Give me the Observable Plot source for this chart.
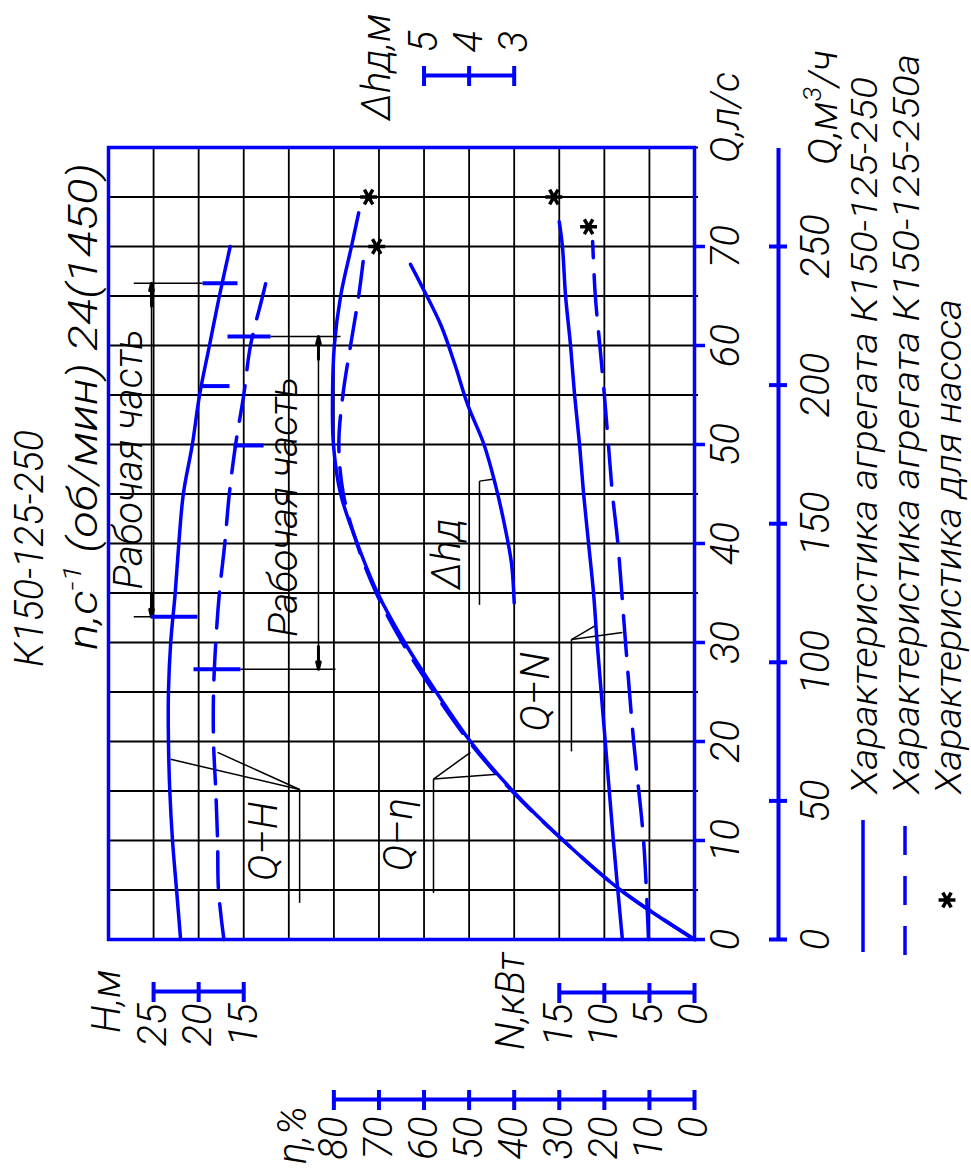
<!DOCTYPE html>
<html>
<head>
<meta charset="utf-8">
<script src="https://cdn.jsdelivr.net/npm/d3@7"></script>
<script src="https://cdn.jsdelivr.net/npm/@observablehq/plot@0.6"></script>
<style>
  html, body { margin: 0; padding: 0; background: #fff; overflow: hidden; }
  /* the sheet is laid out in landscape and turned a quarter turn counter-clockwise */
  #sheet { position: absolute; left: 0; top: 0; width: 1172px; height: 971px;
           transform-origin: 0 0; transform: translate(0px, 1172px) rotate(-90deg); }
  #sheet svg { position: absolute; left: 0; top: 0; overflow: visible; }
</style>
</head>
<body>
<div id="sheet"></div>
<script>
// ---------------- data ----------------
// flow, l/s
const qGrid = [0,5,10,15,20,25,30,35,40,45,50,55,60,65,70,75,80];
const qTicksLs = [0,10,20,30,40,50,60,70];
// flow, m³/h (second scale)
const qTicksM3 = [0,50,100,150,200,250];
// efficiency grid / ticks, %
const etaGrid = [0,10,20,30,40,50,60,70,80,90,100,110,120,130];
const etaTicks = [0,10,20,30,40,50,60,70,80];
const headTicks = [15,20,25];
const powTicks = [0,5,10,15];
const npshTicks = [3,4,5];

// Q-H, unit K150-125-250 (solid)
const qHead = [0,5,10,15,20,25,30,35,40,45,50,55,60,65,70];
const headAgg = [22.0,22.45,22.9,23.2,23.35,23.35,23.1,22.6,22.2,21.7,20.7,19.9,18.8,17.7,16.5];
// Q-H, unit K150-125-250a (dashed)
const qHeadA = [0,5,10,15,20,25,30,35,40,45,50,55,60,65,67.5];
const headAggA = [17.2,17.8,17.9,18.1,18.35,18.35,18.1,17.7,17.1,16.6,15.9,15.0,14.25,12.9,12.25];

// Q-η
const qEff = [0,5,10,15,20,25,30,35,40,45,50,55,60,65,70,73.4];
const effAgg = [0,16.4,29.1,40.3,49.7,57.3,64.3,70.3,74.8,78.5,80.1,80.3,79.9,78.5,76.1,74.5];
const qEffA = [0,5,10,15,20,25,30,35,40,45,50,55,60,65,68.9];
const effAggA = [0,16.4,29.1,40.5,50.0,57.8,64.8,70.6,74.9,77.9,78.9,78.0,76.3,74.5,73.4];

// Q-N, kW
const qPow = [0,10,20,30,35,40,45,50,55,60,65,70,72.5];
const powAgg = [8.0,9.0,9.9,10.8,11.2,11.75,12.3,12.75,13.3,13.75,14.3,14.65,15.0];
const qPowA = [0,10,20,30,40,45,50,55,60,65,70.5];
const powAggA = [5.1,5.65,6.75,7.65,8.5,9.1,9.55,10.0,10.5,11.0,11.3];

// Δh (NPSH), m
const qNpsh = [34,38,42,46,50,54,58,62,66,68.2];
const npsh = [3.0,3.06,3.22,3.42,3.67,4.03,4.31,4.62,5.05,5.3];

// pump-only points (asterisks)
const starEffQ = [75, 70];
const starEff = [72.3, 70.5];
const starPowQ = [75, 72];
const starPow = [15.6, 11.75];

// working ranges, l/s
const workAgg = [32.6, 66.3];
const workAggA = [27.3, 60.9];
// best-efficiency marks on the Q-H curves, l/s
const bestAgg = 55.9;
const bestAggA = 49.9;

// curve captions
const curveLabels = ["Q–H", "Q–η", "Q–N", "Δhд"];
const workLabel = "Рабочая часть";

// ---------------- layout ----------------
const W = 1172, HGT = 971;
const FRAME = {left: 232, right: 1024, top: 108, bottom: 694};
const BLUE = "#0000ff";
const FONT = "Roboto, 'Liberation Sans', Arial, sans-serif";
const FONT_SIZE = 40;
const textStyle = {fontFamily: FONT, fontStyle: "italic", fontWeight: 300, fontSize: FONT_SIZE, fill: "black"};
const sheet = document.getElementById("sheet");
const rows = (xs, ys) => xs.map((x, i) => ({x, y: ys[i]}));

function layer(opts, margins = {}) {
  const svg = Plot.plot({
    width: W, height: HGT,
    marginLeft: FRAME.left, marginRight: W - FRAME.right,
    marginTop: FRAME.top, marginBottom: HGT - FRAME.bottom,
    ...margins, ...opts
  });
  sheet.appendChild(svg);
  return svg;
}

// base: grid, frame, Q axis (l/s), efficiency curves and captions
const capQ = [5.9, 6.9, 21.0, 35.4];
const capEta = [95.5, 65.5, 35.2, 54.9];
const leaders = [
  // Q-H
  {x1: 3.7, y1: 87.6, x2: 15.15, y2: 87.6}, {x1: 15.15, y1: 87.6, x2: 18.2, y2: 116.2}, {x1: 15.15, y1: 87.6, x2: 18.9, y2: 105.8},
  // Q-η
  {x1: 4.7, y1: 57.9, x2: 16.2, y2: 57.9}, {x1: 16.2, y1: 57.9, x2: 18.9, y2: 49.7}, {x1: 16.2, y1: 57.9, x2: 16.7, y2: 43.7},
  // Q-N
  {x1: 19.0, y1: 27.3, x2: 30.3, y2: 27.3}, {x1: 30.3, y1: 27.3, x2: 31.7, y2: 22.0}, {x1: 30.3, y1: 27.3, x2: 31.0, y2: 16.0},
  // Δh
  {x1: 33.8, y1: 47.7, x2: 46.3, y2: 47.7}, {x1: 46.3, y1: 47.7, x2: 46.5, y2: 44.8}
];
layer({
  x: {domain: [0, 80], axis: null},
  y: {domain: [0, 130], axis: null},
  marks: [
    Plot.ruleX(qGrid, {y1: -0.9, y2: 130, stroke: "black", strokeWidth: 1.8}),
    Plot.ruleY(etaGrid, {stroke: "black", strokeWidth: 1.8}),
    Plot.frame({stroke: BLUE, strokeWidth: 3.5}),
    Plot.axisX(qTicksLs, {anchor: "bottom", tickSize: 11, tickPadding: 5, stroke: BLUE, strokeWidth: 3.5, ...textStyle, label: null}),
    Plot.link(leaders, {x1: "x1", y1: "y1", x2: "x2", y2: "y2", stroke: "black", strokeWidth: 1.5}),
    Plot.text(curveLabels, {x: capQ, y: capEta, text: d => d, textAnchor: "start", lineAnchor: "middle", ...textStyle}),
    Plot.text([workLabel, workLabel], {x: [48.5, 43.7], y: [125.3, 91.0], text: d => d, textAnchor: "middle", lineAnchor: "middle", ...textStyle}),
    Plot.line(rows(qEff, effAgg), {x: "x", y: "y", stroke: BLUE, strokeWidth: 3.5, curve: "catmull-rom"}),
    Plot.line(rows(qEffA, effAggA), {x: "x", y: "y", stroke: BLUE, strokeWidth: 3.5, strokeDasharray: "36,16", curve: "catmull-rom"}),
    Plot.dot(rows(starEffQ, starEff), {x: "x", y: "y", symbol: "asterisk", r: 8, stroke: "black", strokeWidth: 3.5})
  ]
});

// head layer: Q-H curves and the working-range dimensions
const dimAgg = {h: 25.23, ext: [[27.2, 19.57, 15.69], [27.2, 25.3, 20.13]]};
const dimAggA = {h: 6.71, ext: [[4.26, 12.03, 16.8], [4.82, 15.36, 20.57]]};
function dimMarks(range, dim) {
  const [q1, q2] = range;
  const [up, lo] = dim.ext;
  return [
    Plot.link([0], {x1: q1, x2: q2, y1: dim.h, y2: dim.h, stroke: "black", strokeWidth: 1.5}),
    Plot.arrow([0, 1], {x1: [q1 + 2.3, q2 - 2.3], x2: [q1, q2], y1: dim.h, y2: dim.h,
      stroke: "black", strokeWidth: 3, headLength: 16, headAngle: 28}),
    Plot.link([0, 1], {x1: [q2, q1], x2: [q2, q1], y1: [up[0], lo[0]], y2: [up[1], lo[1]], stroke: "black", strokeWidth: 1.5}),
    Plot.link([0, 1], {x1: [q2, q1], x2: [q2, q1], y1: [up[1], lo[1]], y2: [up[2], lo[2]], stroke: BLUE, strokeWidth: 4})
  ];
}
layer({
  x: {domain: [0, 80], axis: null},
  y: {domain: [-35, 30], axis: null},
  marks: [
    Plot.line(rows(qHead, headAgg), {x: "x", y: "y", stroke: BLUE, strokeWidth: 3.5, curve: "catmull-rom"}),
    Plot.line(rows(qHeadA, headAggA), {x: "x", y: "y", stroke: BLUE, strokeWidth: 3.5, strokeDasharray: "36,16", curve: "catmull-rom"}),
    ...dimMarks(workAgg, dimAgg),
    ...dimMarks(workAggA, dimAggA),
    Plot.link([0, 1], {x1: [bestAgg, bestAggA], x2: [bestAgg, bestAggA], y1: [19.8, 16.13], y2: [16.58, 12.8], stroke: BLUE, strokeWidth: 4})
  ]
});

// power layer
layer({
  x: {domain: [0, 80], axis: null},
  y: {domain: [0, 65], axis: null},
  marks: [
    Plot.line(rows(qPow, powAgg), {x: "x", y: "y", stroke: BLUE, strokeWidth: 3.5, curve: "catmull-rom"}),
    Plot.line(rows(qPowA, powAggA), {x: "x", y: "y", stroke: BLUE, strokeWidth: 3.5, strokeDasharray: "40,17", curve: "catmull-rom"}),
    Plot.dot(rows(starPowQ, starPow), {x: "x", y: "y", symbol: "asterisk", r: 8, stroke: "black", strokeWidth: 3.5})
  ]
});

// NPSH layer
layer({
  x: {domain: [0, 80], axis: null},
  y: {domain: [-1, 12], axis: null},
  marks: [
    Plot.line(rows(qNpsh, npsh), {x: "x", y: "y", stroke: BLUE, strokeWidth: 3.5, curve: "catmull-rom"})
  ]
});

// second flow scale, m³/h
const qM3Max = 80 * 250 / 70;
layer({
  x: {domain: [0, qM3Max], axis: null},
  y: {domain: [0, 1], axis: null},
  marks: [
    Plot.ruleY([0.5], {x1: 0, x2: qM3Max, stroke: BLUE, strokeWidth: 4}),
    Plot.tickX(qTicksM3, {x: d => d, stroke: BLUE, strokeWidth: 4}),
    Plot.axisX(qTicksM3, {anchor: "bottom", tickSize: 0, tickPadding: 13, ...textStyle, label: null})
  ]
}, {marginTop: 769, marginBottom: HGT - 787});

// value scales drawn as short bars beside the grid
function sideAxis(lineX, domain, ticks, side, pad) {
  layer({
    x: {domain: [0, 1], axis: null},
    y: {domain, axis: null},
    marks: [
      Plot.ruleX([0.5], {y1: d3.min(ticks), y2: d3.max(ticks), stroke: BLUE, strokeWidth: 4}),
      Plot.tickY(ticks, {y: d => d, stroke: BLUE, strokeWidth: 4}),
      Plot.axisY(ticks, {anchor: side, tickSize: 0, tickPadding: pad, ...textStyle, label: null})
    ]
  }, {marginLeft: lineX - 10, marginRight: W - (lineX + 10)});
}
sideAxis(72, [0, 130], etaTicks, "left", 7);
sideAxis(180, [-35, 30], headTicks, "left", 2);
sideAxis(179, [0, 65], powTicks, "left", 1);
sideAxis(1096, [-1, 12], npshTicks, "right", 13);

// titles, scale names and legend
const ov = d3.select(sheet).append("svg").attr("width", W).attr("height", HGT);
function label(x, y, str, len, size = FONT_SIZE) {
  const t = ov.append("text").attr("x", x).attr("y", y)
    .attr("font-family", FONT).attr("font-style", "italic").attr("font-weight", 300)
    .attr("font-size", size).attr("fill", "black");
  if (str !== null) t.text(str);
  if (len) t.attr("textLength", len).attr("lengthAdjust", "spacingAndGlyphs");
  return t;
}
label(505, 43, "К150-125-250", 237);
const sp = label(522, 97, null, 487);
sp.append("tspan").text("n,с");
sp.append("tspan").attr("dy", -16).attr("font-size", 26).text("-1");
sp.append("tspan").attr("dy", 16).text(" (об/мин) 24(1450)");

label(139, 120, "H,м");
label(122, 524, "N,кВт");
label(8, 306, "η,%");
label(1052, 390, "Δhд,м");
label(1009, 739, "Q,л/с");
const qm = label(1007, 837, null, 115);
qm.append("tspan").text("Q,м");
qm.append("tspan").attr("dy", -16).attr("font-size", 26).text("3");
qm.append("tspan").attr("dy", 16).text("/ч");

const legendText = [
  "Характеристика агрегата К150-125-250",
  "Характеристика агрегата К150-125-250а",
  "Характеристика для насоса"
];
const legendLen = [717, 740, 495];
const legendY = [863, 905, 947];
legendText.forEach((s, i) => label(378, legendY[i] + 14, s, legendLen[i], 37));
ov.append("line").attr("x1", 220).attr("x2", 352).attr("y1", legendY[0]).attr("y2", legendY[0])
  .attr("stroke", BLUE).attr("stroke-width", 3.5);
ov.append("line").attr("x1", 217).attr("x2", 347).attr("y1", legendY[1]).attr("y2", legendY[1])
  .attr("stroke", BLUE).attr("stroke-width", 3.5).attr("stroke-dasharray", "29,21");
ov.append("path").attr("d", d3.symbol(d3.symbolAsterisk, 200)())
  .attr("transform", `translate(272,${legendY[2]})`).attr("stroke", "black").attr("stroke-width", 3.5).attr("fill", "none");
</script>
</body>
</html>
